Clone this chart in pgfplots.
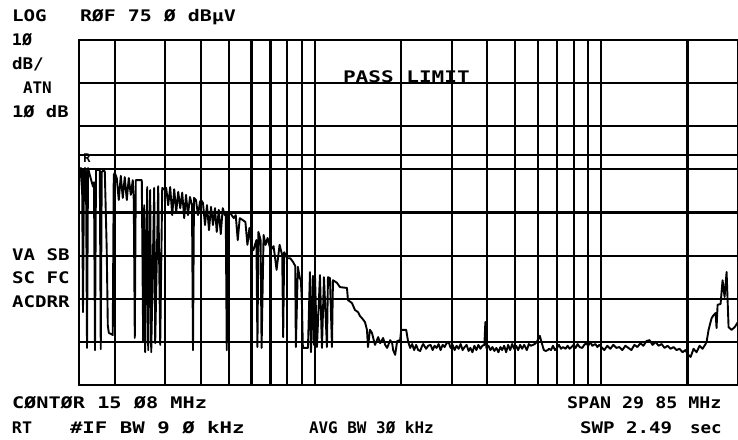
\documentclass[border=0pt]{standalone}
\usepackage{fontspec}
\usepackage{graphicx}
\usepackage{pgfplots}
\pgfplotsset{compat=1.18}
\newfontfamily\plotfont{DejaVu Sans Mono}

\begin{document}
\begin{tikzpicture}[
  lbl/.style={inner sep=0pt, outer sep=0pt, anchor=base west,
              font=\plotfont\bfseries\fontsize{16}{16}\selectfont}]
\begin{axis}[
  at={(79bp,-385bp)}, anchor=south west,
  scale only axis, width=659bp, height=345bp,
  xmode=log, xmin=0.15, xmax=30, ymin=-5, ymax=75,
  xtick={0.2,0.3,0.4,0.5,0.6,0.7,0.8,0.9,1,2,3,4,5,6,7,8,9,10,20},
  ytick={5,15,25,35,45,55,65},
  extra y ticks={48.3}, extra y tick labels={},
  extra y tick style={grid=major},
  xticklabels={}, yticklabels={},
  major tick length=0pt, minor tick length=0pt,
  grid=major,
  major grid style={black, line width=2.2bp},
  axis line style={black, line width=2.2bp},
  clip=true,
]
% trace: frequency (MHz)  level (dBuV)
\addplot[black, line width=1.9bp, line join=round] table {
f db
0.1500 40.2
0.1512 43.7
0.1524 45.3
0.1537 45.0
0.1549 11.9
0.1562 44.9
0.1574 45.3
0.1587 44.5
0.1600 3.6
0.1613 45.3
0.1639 43.5
0.1679 41.0
0.1692 42.0
0.1706 3.1
0.1720 44.9
0.1748 44.9
0.1773 44.9
0.1787 3.3
0.1801 44.4
0.1831 44.9
0.1846 44.4
0.1875 26.3
0.1891 8.9
0.1906 7.1
0.1968 6.6
0.1984 43.7
0.2000 44.2
0.2032 43.0
0.2065 37.9
0.2099 43.5
0.2133 38.4
0.2167 43.2
0.2203 37.9
0.2238 43.0
0.2275 39.1
0.2311 42.5
0.2330 37.9
0.2349 5.9
0.2368 42.5
0.2485 42.5
0.2513 5.0
0.2534 36.7
0.2554 2.6
0.2596 40.9
0.2617 3.1
0.2659 40.2
0.2681 2.6
0.2746 40.7
0.2768 4.7
0.2836 41.1
0.2882 4.3
0.2929 40.7
0.3000 40.2
0.3024 40.7
0.3073 36.7
0.3123 40.9
0.3174 34.4
0.3225 40.4
0.3278 35.1
0.3331 39.8
0.3385 36.0
0.3440 39.6
0.3495 33.7
0.3546 39.1
0.3603 34.4
0.3661 38.6
0.3721 36.7
0.3751 3.1
0.3781 38.4
0.3842 37.9
0.3905 34.4
0.3968 37.4
0.4000 37.9
0.4065 37.2
0.4131 32.1
0.4198 36.7
0.4266 30.9
0.4335 36.3
0.4405 32.1
0.4477 36.0
0.4540 30.5
0.4614 35.6
0.4689 30.0
0.4765 36.0
0.4842 34.4
0.4881 35.1
0.4920 3.1
0.4960 35.1
0.5081 34.7
0.5205 33.7
0.5289 34.4
0.5375 28.6
0.5463 33.7
0.5581 33.3
0.5717 32.8
0.5810 27.5
0.5904 31.4
0.6000 27.0
0.6097 26.3
0.6246 28.6
0.6297 3.8
0.6347 30.5
0.6459 28.6
0.6511 3.6
0.6617 29.8
0.6724 27.5
0.6833 29.1
0.7000 26.3
0.7171 27.2
0.7346 21.7
0.7525 27.5
0.7685 25.1
0.7747 6.1
0.7809 25.8
0.8000 24.4
0.8195 24.4
0.8395 23.5
0.8531 22.6
0.8576 3.8
0.8715 22.4
0.8856 19.8
0.8928 19.3
0.9000 14.7
0.9073 3.6
0.9453 3.6
0.9606 21.2
0.9684 2.6
0.9841 20.3
0.9920 4.3
1.0000 20.5
1.0162 3.8
1.0410 20.5
1.0579 3.6
1.0750 20.0
1.1013 3.8
1.1102 20.0
1.1282 19.8
1.1465 3.8
1.1557 19.3
1.1935 18.7
1.2227 17.7
1.2935 17.5
1.3039 14.7
1.3466 14.0
1.3795 12.4
1.4140 11.9
1.4361 11.0
1.4594 10.5
1.4950 9.6
1.5192 7.8
1.5315 3.8
1.5563 7.8
1.5816 7.1
1.6202 4.3
1.6622 6.1
1.6892 4.7
1.7303 5.9
1.7584 4.3
1.7870 3.6
1.8306 5.4
1.8604 4.7
1.8754 3.1
1.9058 2.0
1.9367 5.2
1.9840 5.4
2.0000 7.8
2.0820 7.8
2.1158 5.0
2.150 3.6
2.185 4.5
2.220 3.1
2.256 4.3
2.293 3.1
2.330 2.9
2.368 4.1
2.387 4.5
2.445 3.4
2.485 4.1
2.534 4.3
2.575 3.1
2.617 4.1
2.659 3.6
2.702 4.5
2.746 3.1
2.791 4.3
2.836 3.8
2.882 4.7
2.929 5.0
2.976 3.6
3.024 4.3
3.073 3.1
3.123 4.1
3.174 3.4
3.225 4.5
3.278 3.1
3.331 3.8
3.385 4.3
3.440 2.9
3.489 3.6
3.546 2.6
3.603 4.1
3.661 3.1
3.721 4.3
3.781 3.4
3.842 4.1
3.905 4.3
3.936 9.6
3.968 3.6
4.032 4.1
4.098 3.1
4.164 3.8
4.232 2.9
4.300 3.6
4.370 2.6
4.441 3.8
4.504 3.1
4.577 4.1
4.651 2.6
4.726 4.3
4.803 3.1
4.881 4.5
4.960 3.4
5.040 4.1
5.122 3.1
5.205 4.3
5.289 3.4
5.375 4.3
5.492 3.1
5.581 4.5
5.672 4.1
5.764 4.3
5.857 4.5
5.952 5.0
6.048 5.9
6.097 6.4
6.196 4.7
6.297 3.1
6.399 2.9
6.502 3.1
6.564 3.4
6.670 3.1
6.778 4.1
6.888 3.1
7.000 3.6
7.113 4.3
7.229 3.4
7.346 3.8
7.502 3.4
7.623 4.1
7.747 3.4
7.872 3.8
8.000 4.3
8.130 3.6
8.261 4.5
8.395 3.8
8.576 3.6
8.715 4.3
8.856 4.7
9.000 4.1
9.146 5.0
9.294 4.1
9.529 4.5
9.684 3.8
9.841 4.3
10.00 3.8
10.24 3.1
10.49 4.1
10.75 3.4
11.01 4.3
11.28 3.6
11.56 3.8
11.84 3.1
12.13 4.1
12.43 3.6
12.73 3.1
13.04 4.3
13.36 3.8
13.68 4.7
14.02 4.1
14.38 5.2
14.73 5.4
15.09 4.3
15.46 5.0
15.84 4.1
16.23 4.5
16.62 3.6
17.03 4.1
17.44 3.4
17.87 3.8
18.31 3.1
18.75 3.4
19.21 2.6
19.68 3.1
20.00 2.2
20.49 1.5
20.99 3.4
21.50 2.6
22.03 4.1
22.56 3.4
23.11 4.5
23.30 5.0
23.68 7.8
23.87 8.7
24.26 10.5
24.65 11.2
25.05 11.7
25.25 8.2
25.46 13.6
26.08 13.8
26.50 19.3
26.93 15.4
27.37 21.2
27.81 8.4
28.49 7.8
29.19 8.4
30.00 9.6
};
\node[inner sep=0pt, anchor=base west, font=\plotfont\bfseries\fontsize{12}{12}\selectfont]
  at (axis cs:0.1550,46.6) {R};
\end{axis}

% annotation text around the graticule
\node[lbl] at (12bp,-21.5bp) {\scalebox{1.2}[1]{LOG}};
\node[lbl] at (80bp,-21.5bp) {\scalebox{1.25}[1]{RØF 75 Ø dBµV}};
\node[lbl] at (12bp,-45bp) {\scalebox{1.05}[1]{1Ø}};
\node[lbl] at (12bp,-69bp) {\scalebox{1.1}[1]{dB/}};
\node[lbl] at (23bp,-93bp) {\scalebox{1.0}[1]{ATN}};
\node[lbl] at (12bp,-117bp) {\scalebox{1.18}[1]{1Ø dB}};
\node[lbl] at (343bp,-82bp) {\scalebox{1.32}[1]{PASS LIMIT}};
\node[lbl] at (12bp,-260bp) {\scalebox{1.2}[1]{VA SB}};
\node[lbl] at (12bp,-283bp) {\scalebox{1.2}[1]{SC FC}};
\node[lbl] at (12bp,-307bp) {\scalebox{1.2}[1]{ACDRR}};
\node[lbl] at (12bp,-408bp) {\scalebox{1.27}[1]{CØNTØR 15 Ø8 MHz}};
\node[lbl] at (567bp,-408bp) {\scalebox{1.15}[1]{SPAN 29 85 MHz}};
\node[lbl] at (12bp,-433bp) {\scalebox{1.05}[1]{RT}};
\node[lbl] at (70bp,-433bp) {\scalebox{1.3}[1]{\#IF BW 9 Ø kHz}};
\node[lbl] at (309bp,-433bp) {AVG BW 3Ø kHz};
\node[lbl] at (580bp,-433bp) {\scalebox{1.2}[1]{SWP 2.49}};
\node[lbl] at (690bp,-433bp) {\scalebox{1.1}[1]{sec}};

\pgfresetboundingbox
\path (0bp,0bp) rectangle (738bp,-440bp);
\end{tikzpicture}
\end{document}
